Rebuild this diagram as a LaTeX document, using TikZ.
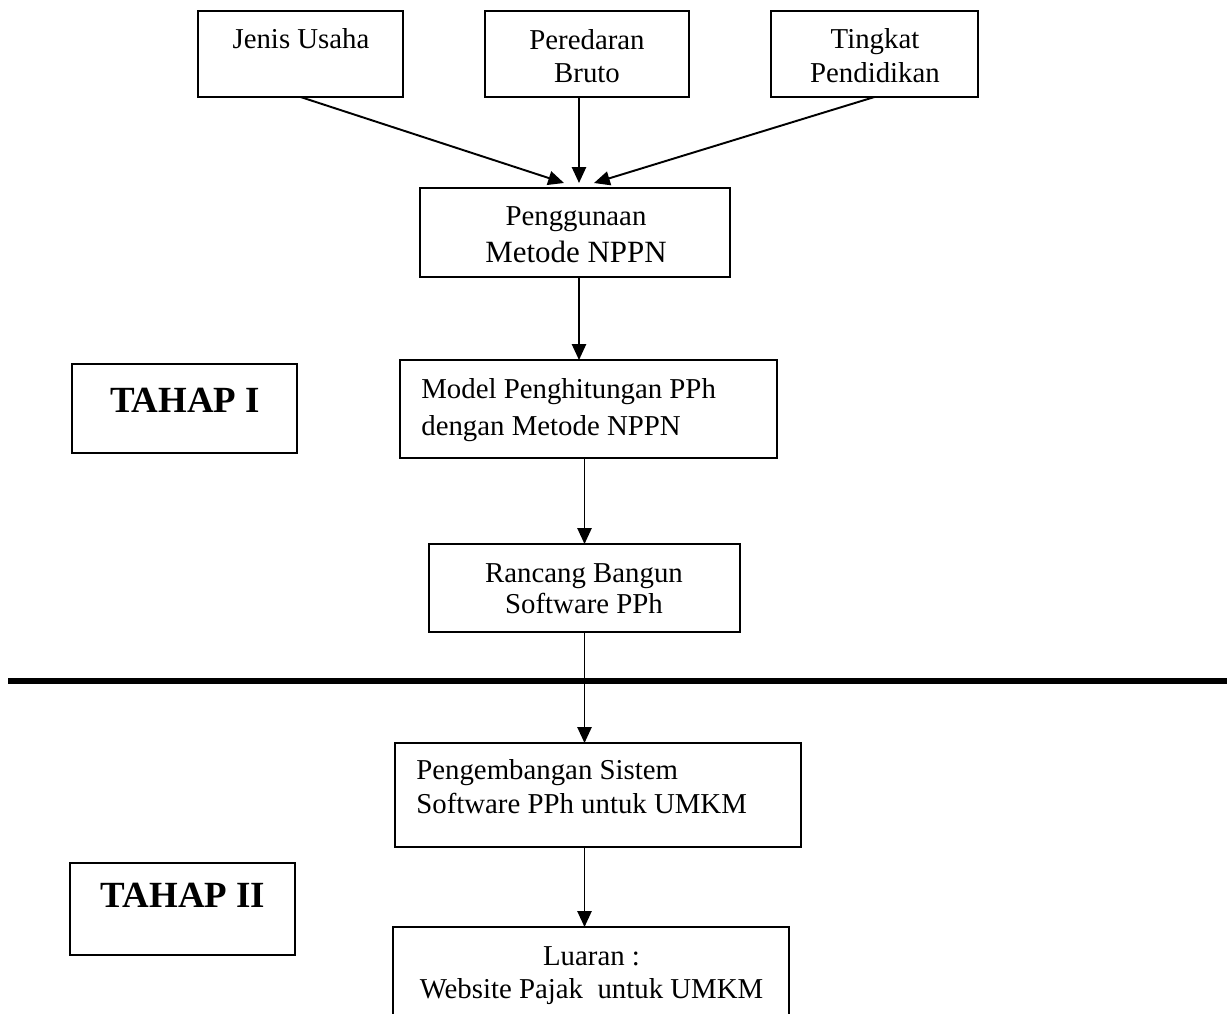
\documentclass[tikz,border=0pt]{standalone}
\usepackage{fontspec}
\setmainfont{Liberation Serif}
\usetikzlibrary{arrows.meta}

\tikzset{
  box/.style={draw, rectangle, line width=0.9pt, inner sep=0pt, outer sep=0pt},
  txt/.style={inner sep=0pt, align=center, font=\fontsize{16.4}{18.7}\selectfont},
  tahap/.style={inner sep=0pt, font=\fontsize{21}{24}\selectfont\bfseries},
  arr/.style={line width=1.1pt, -{Triangle[length=9pt, width=8pt]}}
}

\begin{document}
\begin{tikzpicture}[x=0.02cm, y=-0.02cm]
    \useasboundingbox (0, 0) rectangle (1227, 1014);

    % boxes, tahap I
    \node[box, minimum width=4.10cm, minimum height=1.72cm] (jenis) at (300.5, 54) {};
    \node[box, minimum width=4.08cm, minimum height=1.72cm] (bruto) at (587, 54) {};
    \node[box, minimum width=4.14cm, minimum height=1.72cm] (didik) at (874.5, 54) {};
    \node[box, minimum width=6.20cm, minimum height=1.78cm] (nppn) at (575, 232.5) {};
    \node[box, minimum width=7.54cm, minimum height=1.96cm] (model) at (588.5, 409) {};
    \node[box, minimum width=6.22cm, minimum height=1.76cm] (rancang) at (584.5, 588) {};
    \node[box, minimum width=4.50cm, minimum height=1.78cm] (tahap1) at (184.5, 408.5) {};

    % boxes, tahap II
    \node[box, minimum width=8.12cm, minimum height=2.08cm] (sistem) at (598, 795) {};
    \node[box, minimum width=7.92cm, minimum height=2.06cm] (luaran) at (591, 978.5) {};
    \node[box, minimum width=4.50cm, minimum height=1.84cm] (tahap2) at (182.5, 909) {};

    % texts (base = last line)
    \node[txt, anchor=base] (jenisT) at (301, 49) {Jenis Usaha};
    \node[txt, anchor=base] (brutoT) at (587, 82) {Peredaran\\Bruto};
    \node[txt, anchor=base, font=\fontsize{16.4}{19.3}\selectfont] (didikT) at (875, 82) {Tingkat\\Pendidikan};
    \node[txt, anchor=base, font=\fontsize{16.4}{21}\selectfont] (nppnT) at (576, 262)
      {Penggunaan\\\fontsize{17.6}{21}\selectfont Metode NPPN};
    \node[txt, anchor=base west, align=left, font=\fontsize{16.4}{21}\selectfont] (modelT) at (421, 435)
      {Model Penghitungan PPh\\dengan Metode NPPN};
    \node[txt, anchor=base, font=\fontsize{16.4}{17.6}\selectfont] (rancangT) at (584, 613) {Rancang Bangun\\Software PPh};
    \node[txt, anchor=base west, align=left, font=\fontsize{16.4}{19.3}\selectfont] (sistemT) at (416, 813)
      {Pengembangan Sistem\\Software PPh untuk UMKM};
    \node[txt, anchor=base] (luaranT) at (591.5, 998) {Luaran :\\Website Pajak\ \ untuk UMKM};
    \node[tahap, anchor=base] (tahap1T) at (185, 412) {TAHAP I};
    \node[tahap, anchor=base] (tahap2T) at (183, 907) {TAHAP II};

    % divider
    \draw[line width=3.4pt] (8, 681) -- (1227, 681);

    % arrows
    \coordinate (inA) at (564, 183);
    \coordinate (inB) at (579, 183);
    \coordinate (inC) at (594, 183);
    \draw[arr] (jenis.south) -- (inA);
    \draw[arr] (inB |- bruto.south) -- (inB);
    \draw[arr] (didik.south) -- (inC);
    \draw[arr] (inB |- nppn.south) -- (inB |- model.north);
    \draw[arr] (rancang.north |- model.south) -- (rancang.north);
    \draw[arr] (rancang.south) -- (rancang.south |- sistem.north);
    \draw[arr] (rancang.south |- sistem.south) -- (rancang.south |- luaran.north);
\end{tikzpicture}
\end{document}
